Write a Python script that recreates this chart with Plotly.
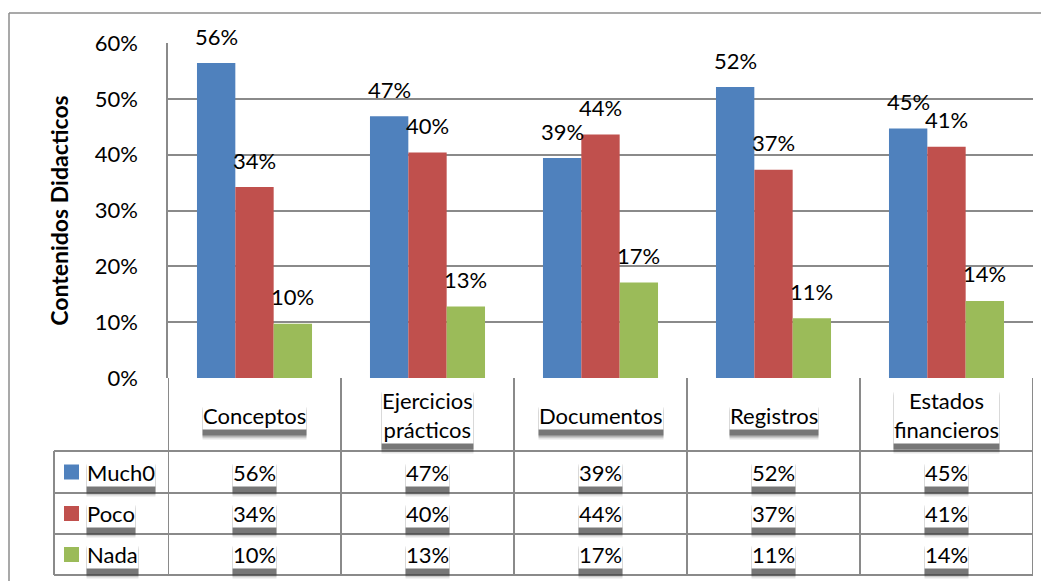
import plotly.graph_objects as go

categories = ["Conceptos", "Ejercicios<br>prácticos", "Documentos", "Registros", "Estados<br>financieros"]
series_names = ["Much0", "Poco", "Nada"]
mucho = [0.564, 0.469, 0.394, 0.521, 0.447]
poco = [0.342, 0.404, 0.436, 0.373, 0.414]
nada = [0.097, 0.128, 0.171, 0.107, 0.138]
y_ticks = [0, 0.1, 0.2, 0.3, 0.4, 0.5, 0.6]
y_title = "Contenidos Didacticos"

colors = ["#4F81BD", "#C0504D", "#9BBB59"]
series = [mucho, poco, nada]

W, H = 1049, 581
OFF = 8  # page body margin offset
L, R, T, B = 168 - OFF, W - (1033 - OFF), 43 - OFF, H - (378 - OFF)
PW, PH = W - L - R, H - T - B
FONT = "Lato"
FS = 22
GRID = "#8a8a8a"


def px_x(px):
    return (px - OFF - L) / PW


def px_y(py):
    return (H - B - (py - OFF)) / PH


fig = go.Figure()
for name, vals, col in zip(series_names, series, colors):
    fig.add_trace(go.Bar(x=categories, y=vals, name=name, marker_color=col,
                         marker_line_width=0, showlegend=False))

# bar geometry (for label offsets)
bargap = 0.335
cat_px = PW / len(categories)
bar_px = cat_px * (1 - bargap) / len(series)

annotations = []
# data labels above bars
for j, vals in enumerate(series):
    for cat, v in zip(categories, vals):
        annotations.append(dict(x=cat, y=v, xref="x", yref="y", text=f"{round(v*100)}%",
                                showarrow=False, xshift=(j - 1) * bar_px, yshift=27,
                                yanchor="middle", xanchor="center",
                                font=dict(family=FONT, size=FS, color="black")))

# table geometry
header_bottom = 451
row_lines = [493, 534, 575]
legend_left = 54
row_centers = [(header_bottom + row_lines[0]) / 2, (row_lines[0] + row_lines[1]) / 2,
               (row_lines[1] + row_lines[2]) / 2]
header_center = 415


def shadow_label(x, xref, ypx, text, xanchor="center"):
    for ys, a in [(-10, 0.12), (-8, 0.25), (-6, 0.4)]:
        annotations.append(dict(x=x, y=px_y(ypx), xref=xref, yref="paper", text=text,
                                showarrow=False, xanchor=xanchor, yanchor="middle",
                                yshift=ys, borderpad=0,
                                bgcolor=f"rgba(30,30,30,{a})",
                                font=dict(family=FONT, size=FS, color="rgba(0,0,0,0)")))
    annotations.append(dict(x=x, y=px_y(ypx), xref=xref, yref="paper", text=text,
                            showarrow=False, xanchor=xanchor, yanchor="middle",
                            borderpad=0, bgcolor="white",
                            font=dict(family=FONT, size=FS, color="black")))


for cat in categories:
    shadow_label(cat, "x", header_center, cat)

for j, (name, vals, col) in enumerate(zip(series_names, series, colors)):
    yc = row_centers[j]
    shadow_label(px_x(86), "paper", yc, name, xanchor="left")
    for cat, v in zip(categories, vals):
        shadow_label(cat, "x", yc, f"{round(v*100)}%")

shapes = []
line_style = dict(color=GRID, width=2)
# vertical category boundaries
for i in range(len(categories) + 1):
    shapes.append(dict(type="line", xref="x", yref="paper", x0=i - 0.5, x1=i - 0.5,
                       y0=0, y1=px_y(row_lines[-1]), line=line_style, layer="below"))
# horizontal table lines
for ypx in [header_bottom] + row_lines:
    shapes.append(dict(type="line", xref="paper", yref="paper", x0=px_x(legend_left), x1=1,
                       y0=px_y(ypx), y1=px_y(ypx), line=line_style, layer="below"))
shapes.append(dict(type="line", xref="paper", yref="paper", x0=px_x(legend_left), x1=px_x(legend_left),
                   y0=px_y(header_bottom), y1=px_y(row_lines[-1]), line=line_style, layer="below"))
# legend keys
for j, col in enumerate(colors):
    yc = row_centers[j]
    shapes.append(dict(type="rect", xref="paper", yref="paper", x0=px_x(64), x1=px_x(79),
                       y0=px_y(yc + 7.5), y1=px_y(yc - 7.5), fillcolor=col, line_width=0))
# outer chart border (top and left visible)
shapes.append(dict(type="line", xref="paper", yref="paper", x0=px_x(9), x1=px_x(W + 20),
                   y0=px_y(13), y1=px_y(13), line=dict(color="#8c8c8c", width=1.5)))
shapes.append(dict(type="line", xref="paper", yref="paper", x0=px_x(9), x1=px_x(9),
                   y0=px_y(13), y1=px_y(H + 20), line=dict(color="#8c8c8c", width=1.5)))

fig.update_layout(
    width=W, height=H,
    margin=dict(l=L, r=R, t=T, b=B, autoexpand=False),
    plot_bgcolor="white", paper_bgcolor="white",
    barmode="group", bargap=bargap, bargroupgap=0,
    font=dict(family=FONT, size=FS, color="black"),
    annotations=annotations, shapes=shapes,
    xaxis=dict(range=[-0.5, 4.5], showticklabels=False, showgrid=False, showline=False,
               zeroline=False, ticks="", automargin=False),
    yaxis=dict(range=[0, 0.6], tickvals=y_ticks, tickformat=".0%", showgrid=True,
               gridcolor=GRID, gridwidth=1.5, showline=True, linecolor=GRID, linewidth=1.5,
               zeroline=False, ticks="", ticklabelstandoff=24, automargin=False,
               tickfont=dict(family=FONT, size=FS),
               title=dict(text=f"<b>{y_title}</b>", standoff=20,
                          font=dict(family=FONT, size=23))),
)

fig.write_html("out.html")
